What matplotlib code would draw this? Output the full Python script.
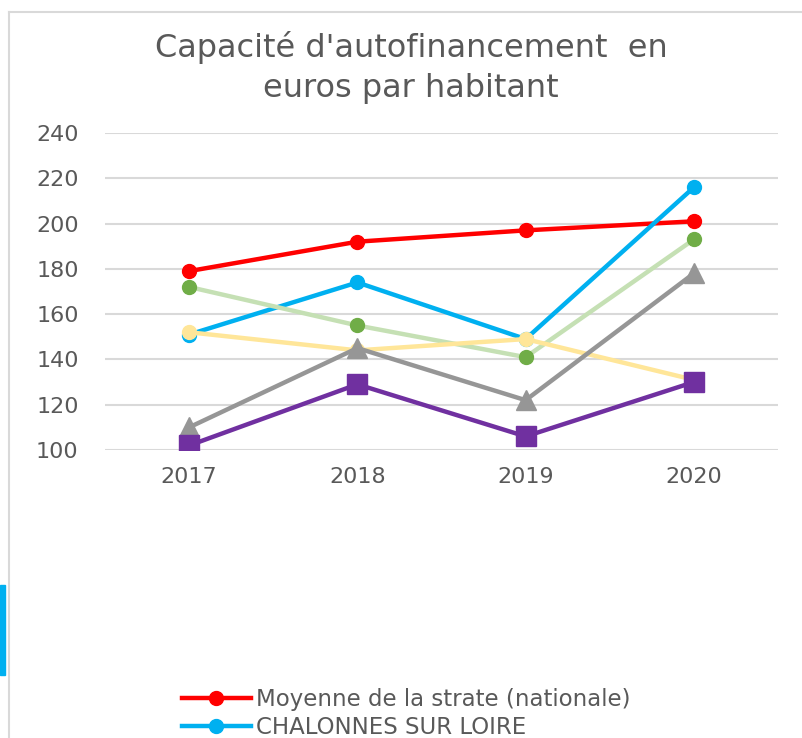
import matplotlib.pyplot as plt
from matplotlib.lines import Line2D
from matplotlib.patches import Rectangle

# data
years = ["2017", "2018", "2019", "2020"]
moyenne = [179, 192, 197, 201]
chalonnes = [151, 174, 149, 216]
serie_verte = [172, 155, 141, 193]
serie_jaune = [152, 144, 149, 131]
serie_grise = [110, 145, 122, 178]
serie_violette = [102, 129, 106, 130]

yticks = [100, 120, 140, 160, 180, 200, 220, 240]

plt.rcParams['font.family'] = ['DejaVu Sans']
text_color = "#595959"

fig = plt.figure(figsize=(8.03, 7.38), dpi=100)
ax = fig.add_axes([105 / 803, 1 - 450 / 738, (778 - 105) / 803, (450 - 133) / 738])

x = range(len(years))
ax.plot(x, moyenne, color="#ff0000", lw=3.2, marker="o", ms=10, zorder=3,
        label="Moyenne de la strate (nationale)")
ax.plot(x, chalonnes, color="#00b0f0", lw=3.2, marker="o", ms=10, zorder=4,
        label="CHALONNES SUR LOIRE")
ax.plot(x, serie_verte, color="#c5e0b4", lw=3.2, marker="o", ms=10,
        mfc="#70ad47", mec="#70ad47", zorder=5)
ax.plot(x, serie_jaune, color="#ffe699", lw=3.2, marker="o", ms=10, zorder=6)
ax.plot(x, serie_grise, color="#969696", lw=3.2, marker="^", ms=15, zorder=7)
ax.plot(x, serie_violette, color="#7030a0", lw=3.2, marker="s", ms=14, zorder=8)

ax.set_xlim(-0.5, 3.5)
ax.set_ylim(100, 240)
ax.set_xticks(list(x))
ax.set_xticklabels(years)
ax.set_yticks(yticks)
ax.grid(axis="y", color="#d9d9d9", lw=1.5)
ax.set_axisbelow(True)
for s in ax.spines.values():
    s.set_visible(False)
ax.tick_params(length=0, labelsize=16, colors=text_color)
ax.tick_params(axis="y", pad=19)
ax.tick_params(axis="x", pad=12)

fig.text(0.512, 1 - 48 / 738, "Capacité d'autofinancement  en", ha="center", va="center",
         fontsize=23, color=text_color)
fig.text(0.512, 1 - 89 / 738, "euros par habitant", ha="center", va="center",
         fontsize=23, color=text_color)

# frame of the chart area and the cut-off element on the left
fig.add_artist(Line2D([9 / 803, 9 / 803], [0, 1 - 12 / 738], color="#d9d9d9", lw=1.5))
fig.add_artist(Line2D([9 / 803, 1], [1 - 12 / 738, 1 - 12 / 738], color="#d9d9d9", lw=1.5))
fig.add_artist(Rectangle((0, 1 - 675 / 738), 5 / 803, 90 / 738, color="#00b0f0",
                         transform=fig.transFigure))

handles, labels = ax.get_legend_handles_labels()
fig.legend(handles, labels, loc="upper left", bbox_to_anchor=(174 / 803, 1 - 680 / 738),
           frameon=False, fontsize=16.5, handlelength=3.0, handletextpad=0.25,
           labelspacing=0.2, labelcolor=text_color, borderaxespad=0, borderpad=0.35)

fig.savefig("out.png", dpi=100)
